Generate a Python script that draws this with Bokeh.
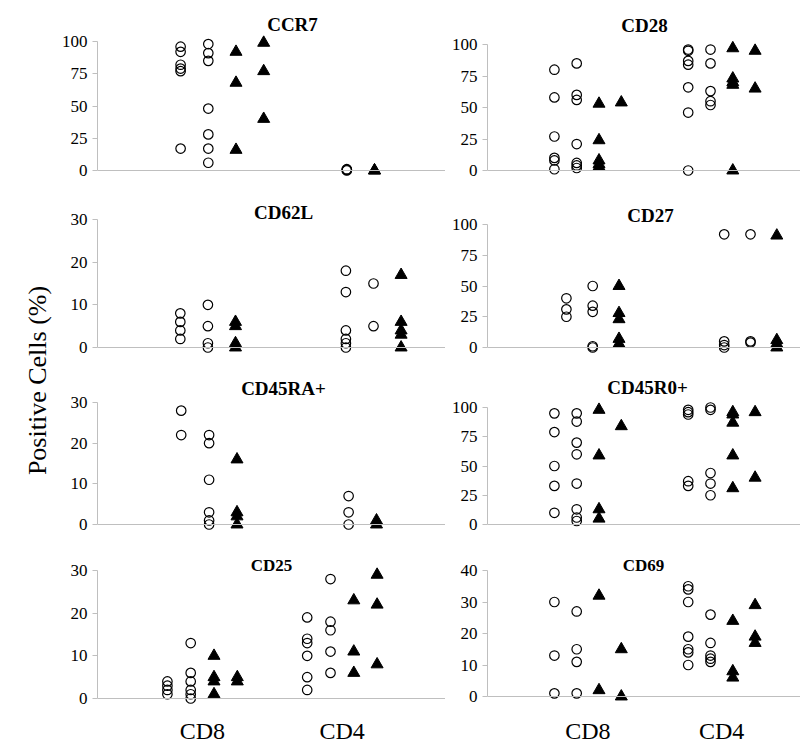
import math
from bokeh.plotting import figure
from bokeh.layouts import row, column
from bokeh.models import Range1d, FixedTicker, Span, Label, ColumnDataSource
from bokeh.embed import file_html
from bokeh.resources import INLINE

FONT = "Liberation Serif"
GRAY = "#bfbfbf"

# ---------------- data ----------------
GROUPS = ["CD8", "CD4"]
GROUP_BASE = [3, 9]          # first column slot of each group
GROUP_LABEL_POS = [4.5, 10.5]

# each entry: [CD8 columns, CD4 columns]; open circles first, then filled triangles
CCR7_OPEN = [[[96, 92, 82, 79, 77, 17], [98, 91, 85, 48, 28, 17, 6]], [[1, 0.5, 0]]]
CCR7_FILLED = [[[92, 68, 16], [99, 77, 40]], [[0, 0]]]

CD28_OPEN = [[[80, 58, 27, 10, 8, 1], [85, 60, 56, 21, 6, 4, 2]],
             [[96, 95, 87, 84, 66, 46, 0], [96, 85, 63, 55, 52]]]
CD28_FILLED = [[[53, 24, 8, 5, 3], [54]], [[97, 73, 70, 68, 0], [95, 65]]]

CD62L_OPEN = [[[8, 6, 4, 2], [10, 5, 1, 0]], [[18, 13, 4, 2, 1, 0], [15, 5]]]
CD62L_FILLED = [[[6, 5, 1, 0]], [[17, 6, 4, 3, 0]]]

CD27_OPEN = [[[40, 31, 25], [50, 34, 29, 1, 0]], [[92, 5, 2, 0], [92, 5, 4]]]
CD27_FILLED = [[[50, 28, 23, 7, 3]], [[91, 6, 3, 0]]]

CD45RA_OPEN = [[[28, 22], [22, 20, 11, 3, 1, 0]], [[7, 3, 0]]]
CD45RA_FILLED = [[[16, 3, 2, 0]], [[1, 0]]]

CD45R0_OPEN = [[[95, 79, 50, 33, 10], [95, 88, 70, 60, 35, 13, 6, 3]],
               [[98, 96, 94, 37, 33], [100, 98, 44, 35, 25]]]
CD45R0_FILLED = [[[98, 59, 13, 5], [84]], [[96, 94, 87, 59, 31], [96, 40]]]

CD25_OPEN = [[[4, 3, 2, 1], [13, 6, 4, 2, 1, 0]], [[19, 14, 13, 10, 5, 2], [28, 18, 16, 11, 6]]]
CD25_FILLED = [[[10, 5, 4, 1], [5, 4]], [[23, 11, 6], [29, 22, 8]]]

CD69_OPEN = [[[30, 13, 1], [27, 15, 11, 1]], [[35, 34, 30, 19, 15, 14, 10], [26, 17, 13, 12, 11]]]
CD69_FILLED = [[[32, 2], [15, 0]], [[24, 8, 6], [29, 19, 17]]]

TICKS_100 = [0, 25, 50, 75, 100]
TICKS_30 = [0, 10, 20, 30]
TICKS_40 = [0, 10, 20, 30, 40]

Y_LABEL = "Positive Cells (%)"

# ---------------- layout (page pixels, page origin at 0,0) ----------------
LEFT = dict(fig_x0=53, frame_x0=97, frame_x1=445)
RIGHT = dict(fig_x0=445, frame_x0=487, frame_x1=800)
ROWS = [(0, 185), (185, 358), (358, 535), (535, 754)]
BOTTOM_BORDER = 46

# title, open, filled, ticks, side, row, zero_px, ref_px, ref_val, slot_px, title_xy, title_size
PANELS = [
    ("CCR7", CCR7_OPEN, CCR7_FILLED, TICKS_100, LEFT, 0, 170, 41, 100, 27.7, (292, 24), 19),
    ("CD28", CD28_OPEN, CD28_FILLED, TICKS_100, RIGHT, 0, 170, 44, 100, 22.3, (644, 25), 19),
    ("CD62L", CD62L_OPEN, CD62L_FILLED, TICKS_30, LEFT, 1, 347, 219, 30, 27.6, (283, 212), 19),
    ("CD27", CD27_OPEN, CD27_FILLED, TICKS_100, RIGHT, 1, 347, 224, 100, 26.3, (650, 215), 19),
    ("CD45RA+", CD45RA_OPEN, CD45RA_FILLED, TICKS_30, LEFT, 2, 524, 402, 30, 27.9, (283, 388), 19),
    ("CD45R0+", CD45R0_OPEN, CD45R0_FILLED, TICKS_100, RIGHT, 2, 524, 407, 100, 22.3, (647, 387), 19),
    ("CD25", CD25_OPEN, CD25_FILLED, TICKS_30, LEFT, 3, 698, 570, 30, 23.3, (271, 565), 17),
    ("CD69", CD69_OPEN, CD69_FILLED, TICKS_40, RIGHT, 3, 696, 570, 40, 22.3, (643, 565), 17),
]


def make_panel(title, open_cols, filled_cols, ticks, side, row_i, zero_px, ref_px, ref_val,
               slot_px, title_xy, title_size):
    top, bottom = ROWS[row_i]
    is_bottom = row_i == len(ROWS) - 1
    frame_bottom = bottom - (BOTTOM_BORDER if is_bottom else 0)
    ppu = (zero_px - ref_px) / ref_val
    y0 = (zero_px - frame_bottom) / ppu
    y1 = (zero_px - top) / ppu
    frame_w = side["frame_x1"] - side["frame_x0"]
    x1 = frame_w / slot_px
    fig_w = side["frame_x1"] - side["fig_x0"]
    fig_h = bottom - top

    p = figure(width=fig_w, height=fig_h, x_range=Range1d(0, x1), y_range=Range1d(y0, y1),
               output_backend="svg", toolbar_location=None,
               x_axis_location="below" if is_bottom else None,
               min_border=0, min_border_left=side["frame_x0"] - side["fig_x0"],
               min_border_bottom=BOTTOM_BORDER if is_bottom else 0,
               outline_line_color=None, background_fill_color=None, border_fill_color=None)
    p.grid.visible = False

    yax = p.yaxis[0]
    yax.ticker = FixedTicker(ticks=ticks)
    yax.bounds = (0, ticks[-1])
    yax.axis_line_color = GRAY
    yax.major_tick_line_color = GRAY
    yax.major_tick_out = 5
    yax.major_tick_in = 0
    yax.minor_tick_line_color = None
    yax.major_label_standoff = 5
    yax.major_label_text_font = FONT
    yax.major_label_text_font_size = "17px"
    yax.major_label_text_color = "#000000"

    if is_bottom:
        xax = p.xaxis[0]
        xax.ticker = FixedTicker(ticks=GROUP_LABEL_POS)
        xax.major_label_overrides = {pos: g for pos, g in zip(GROUP_LABEL_POS, GROUPS)}
        xax.axis_line_color = None
        xax.major_tick_line_color = None
        xax.minor_tick_line_color = None
        xax.major_tick_out = 0
        xax.major_tick_in = 0
        xax.major_label_standoff = 9
        xax.major_label_text_font = FONT
        xax.major_label_text_font_size = "24px"
        xax.major_label_text_color = "#000000"

    p.add_layout(Span(location=0, dimension="width", line_color=GRAY, line_width=1))

    ox, oy, fx, fy = [], [], [], []
    for gi, base in enumerate(GROUP_BASE):
        oc = open_cols[gi]
        fc = filled_cols[gi]
        for k, col in enumerate(oc):
            ox += [base + k] * len(col)
            oy += col
        for k, col in enumerate(fc):
            fx += [base + len(oc) + k] * len(col)
            fy += col

    p.scatter(x="x", y="y", source=ColumnDataSource(dict(x=ox, y=oy)), marker="circle",
              size=9.5, fill_color=None, line_color="black", line_width=1.2)
    p.scatter(x="x", y="y", source=ColumnDataSource(dict(x=fx, y=fy)), marker="triangle",
              size=12, fill_color="black", line_color="black", line_width=1)

    tx, ty = title_xy
    p.add_layout(Label(x=tx - side["frame_x0"], y=frame_bottom - ty, x_units="screen", y_units="screen",
                       text=title, text_font=FONT, text_font_style="bold",
                       text_font_size=f"{title_size}px", text_align="center",
                       text_baseline="middle", text_color="#000000"))
    return p


figs = [make_panel(*cfg) for cfg in PANELS]
left_col = column(*[f for f, cfg in zip(figs, PANELS) if cfg[4] is LEFT])
right_col = column(*[f for f, cfg in zip(figs, PANELS) if cfg[4] is RIGHT])

total_h = ROWS[-1][1] - ROWS[0][0]
lab_w = LEFT["fig_x0"]
yl = figure(width=lab_w, height=total_h, x_range=Range1d(0, 1), y_range=Range1d(0, 1),
            output_backend="svg", toolbar_location=None, x_axis_location=None,
            y_axis_location=None, min_border=0, outline_line_color=None,
            background_fill_color=None, border_fill_color=None)
yl.grid.visible = False
yl.add_layout(Label(x=37, y=total_h - 380, x_units="screen", y_units="screen",
                    text=Y_LABEL, angle=math.pi / 2, text_font=FONT, text_font_size="26px",
                    text_align="center", text_baseline="middle", text_color="#000000"))

layout = row(yl, left_col, right_col)

with open("out.html", "w") as fh:
    fh.write(file_html(layout, INLINE))
